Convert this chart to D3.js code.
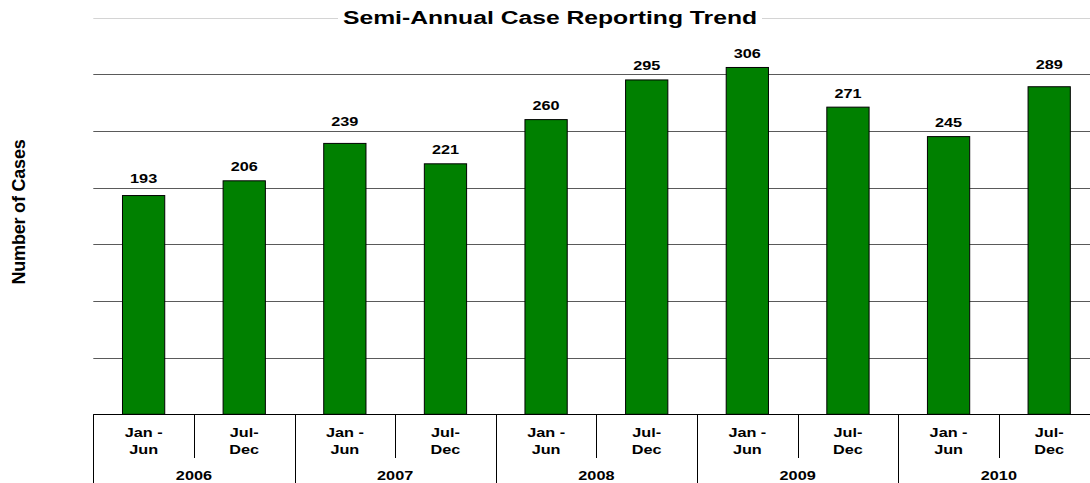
<!DOCTYPE html>
<html>
<head>
<meta charset="utf-8">
<script src="https://cdn.jsdelivr.net/npm/d3@7/dist/d3.min.js"></script>
<style>
  body { margin: 0; background: #fff; }
  svg { display: block; font-family: Arial, "Liberation Sans", sans-serif; font-weight: bold; }
</style>
</head>
<body>
<svg id="chart" width="1090" height="483"></svg>
<script>
// the data
var years = ['2006', '2007', '2008', '2009', '2010'];
var halves = [['Jan -', 'Jun'], ['Jul-', 'Dec']];
var cases = [193, 206, 239, 221, 260, 295, 306, 271, 245, 289];
var yTicks = [50, 100, 150, 200, 250, 300];

var svg = d3.select('#chart');
var plotLeft = 93.3, plotRight = 1099.5, plotBottom = 414.3, plotTop = 17.6;
var stretch = 1.25; // horizontal text in the original looks widened

// one key per half-year
var periods = [];
years.forEach(function(yr) {
    halves.forEach(function(h, i) { periods.push({ year: yr, half: i, label: h, key: yr + '-' + i }); });
});
periods.forEach(function(p, i) { p.value = cases[i]; });

var x = d3.scaleBand()
    .domain(periods.map(function(p) { return p.key; }))
    .range([plotLeft, plotRight])
    .paddingInner(0.58)
    .paddingOuter(0.29);

var xYear = d3.scaleBand()
    .domain(years)
    .range([plotLeft, plotRight]);

var y = d3.scaleLinear().domain([0, 350]).range([plotBottom, plotTop]);

// top border line, title sits over it
svg.append('line')
    .attr('x1', plotLeft).attr('x2', plotRight)
    .attr('y1', Math.round(y(350)) + 0.5).attr('y2', Math.round(y(350)) + 0.5)
    .attr('stroke', '#d4d4d4');

// gridlines
svg.selectAll('.grid').data(yTicks).enter().append('line')
    .attr('class', 'grid')
    .attr('x1', plotLeft).attr('x2', plotRight)
    .attr('y1', function(d) { return Math.round(y(d)) + 0.5; })
    .attr('y2', function(d) { return Math.round(y(d)) + 0.5; })
    .attr('stroke', '#5a5a5a');

// title with white box behind it
var title = svg.append('g').attr('transform', 'translate(550,24)');
title.append('rect')
    .attr('x', -212).attr('y', -16).attr('width', 424).attr('height', 20)
    .attr('fill', '#fff');
title.append('text')
    .attr('text-anchor', 'middle')
    .attr('transform', 'scale(1.3,1)')
    .attr('font-size', 19)
    .text('Semi-Annual Case Reporting Trend');

// bars
svg.selectAll('.bar').data(periods).enter().append('rect')
    .attr('class', 'bar')
    .attr('x', function(d) { return x(d.key); })
    .attr('width', x.bandwidth())
    .attr('y', function(d) { return y(d.value); })
    .attr('height', function(d) { return plotBottom - y(d.value); })
    .attr('fill', '#008000')
    .attr('stroke', '#000')
    .attr('stroke-width', 1);

// value labels: sit just above the bar, pushed up when a gridline would cross them
function labelY(v) {
    var base = y(v) - 9.5;
    yTicks.forEach(function(t) {
        var g = y(t);
        if (g > base - 11 && g < base + 2) base = g - 5;
    });
    return base;
}

svg.selectAll('.val').data(periods).enter().append('text')
    .attr('class', 'val')
    .attr('text-anchor', 'middle')
    .attr('font-size', 13)
    .attr('transform', function(d) {
        return 'translate(' + (x(d.key) + x.bandwidth() / 2) + ',' + labelY(d.value) + ') scale(' + stretch + ',1)';
    })
    .text(function(d) { return d.value; });

// axis baseline
svg.append('line')
    .attr('x1', plotLeft).attr('x2', plotRight)
    .attr('y1', Math.round(plotBottom) + 0.5).attr('y2', Math.round(plotBottom) + 0.5)
    .attr('stroke', '#000');

var step = x.step();

// separators between half-years (short) and years (long)
svg.selectAll('.sep').data(periods).enter().append('line')
    .attr('class', 'sep')
    .attr('x1', function(d, i) { return Math.round(plotLeft + i * step) + 0.5; })
    .attr('x2', function(d, i) { return Math.round(plotLeft + i * step) + 0.5; })
    .attr('y1', plotBottom)
    .attr('y2', function(d) { return d.half === 0 ? 483 : 458; })
    .attr('stroke', '#000');

// half-year labels, two lines each
var cat = svg.selectAll('.cat').data(periods).enter().append('g')
    .attr('class', 'cat')
    .attr('transform', function(d) { return 'translate(' + (x(d.key) + x.bandwidth() / 2) + ',0)'; });
cat.selectAll('text').data(function(d) { return d.label; }).enter().append('text')
    .attr('text-anchor', 'middle')
    .attr('font-size', 13)
    .attr('transform', function(d, i) { return 'translate(0,' + (437 + i * 16.5) + ') scale(' + stretch + ',1)'; })
    .text(function(d) { return d; });

// year labels
svg.selectAll('.year').data(years).enter().append('text')
    .attr('class', 'year')
    .attr('text-anchor', 'middle')
    .attr('font-size', 13)
    .attr('transform', function(d) {
        return 'translate(' + (xYear(d) + xYear.bandwidth() / 2) + ',480) scale(' + stretch + ',1)';
    })
    .text(function(d) { return d; });

// y axis title
svg.append('text')
    .attr('text-anchor', 'middle')
    .attr('font-size', 18)
    .attr('letter-spacing', -0.2)
    .attr('transform', 'translate(25,212) rotate(-90)')
    .text('Number of Cases');
</script>
</body>
</html>
